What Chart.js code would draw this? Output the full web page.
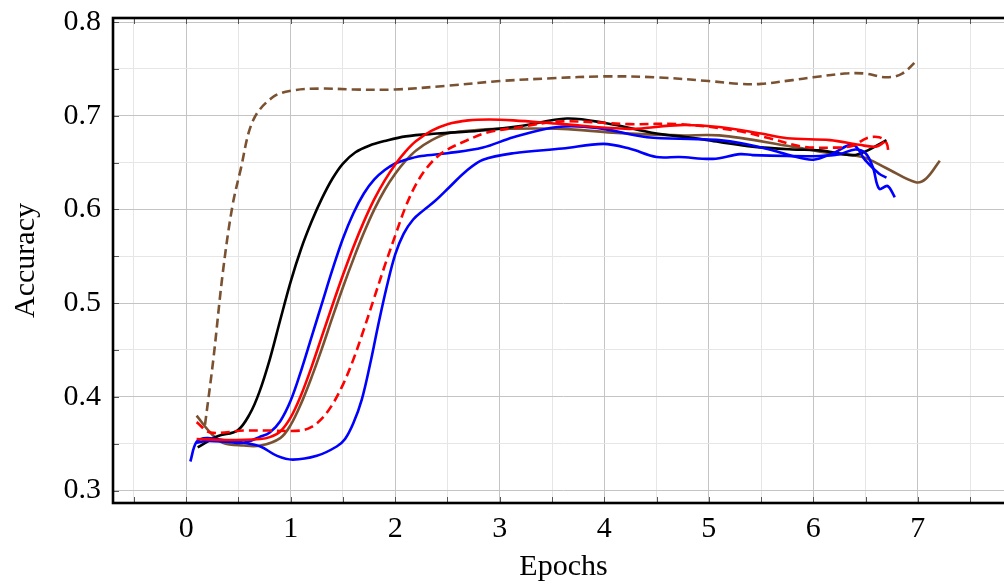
<!DOCTYPE html>
<html lang="en">
<head>
    <meta charset="UTF-8">
    <title>Accuracy vs Epochs</title>
    <style>
        html, body { margin: 0; padding: 0; background: #fff; overflow: hidden; }
        #wrap { width: 1016px; height: 587px; }
    </style>
</head>
<body>
    <div id="wrap"><canvas id="acc-chart" width="1016" height="587"></canvas></div>

    <script src="https://cdn.jsdelivr.net/npm/chart.js"></script>
    <script>
        // Accuracy per epoch for each run
        const blackEpochs = [0.11, 0.3, 0.49, 0.61, 0.7, 0.8, 0.9, 1.0, 1.1, 1.2, 1.3, 1.4, 1.5, 1.62, 1.75, 1.9, 2.1, 2.4, 2.8, 3.2, 3.64, 4.02, 4.5, 4.8, 5.1, 5.42, 5.8, 6.06, 6.38, 6.5, 6.7];
        const blackAcc    = [0.346, 0.358, 0.364, 0.382, 0.405, 0.44, 0.482, 0.523, 0.558, 0.587, 0.612, 0.633, 0.649, 0.661, 0.668, 0.673, 0.678, 0.681, 0.684, 0.689, 0.697, 0.692, 0.681, 0.677, 0.672, 0.667, 0.664, 0.663, 0.658, 0.662, 0.674];

        const redEpochs = [0.1, 0.39, 0.71, 0.8, 0.9, 1.0, 1.1, 1.2, 1.3, 1.4, 1.5, 1.6, 1.7, 1.8, 1.9, 2.0, 2.1, 2.2, 2.35, 2.5, 2.7, 2.9, 3.13, 3.6, 4.24, 4.72, 5.1, 5.5, 5.75, 6.16, 6.44, 6.6, 6.68];
        const redAcc    = [0.355, 0.354, 0.355, 0.357, 0.363, 0.378, 0.402, 0.432, 0.465, 0.498, 0.53, 0.56, 0.587, 0.611, 0.631, 0.648, 0.662, 0.673, 0.684, 0.691, 0.695, 0.696, 0.695, 0.691, 0.686, 0.69, 0.688, 0.681, 0.676, 0.674, 0.669, 0.667, 0.672];

        const redDashEpochs = [0.1, 0.23, 0.55, 0.8, 1.09, 1.2, 1.3, 1.4, 1.5, 1.6, 1.7, 1.8, 1.9, 2.0, 2.1, 2.2, 2.3, 2.4, 2.5, 2.65, 2.88, 3.2, 3.6, 4.24, 4.72, 5.27, 5.58, 5.9, 6.22, 6.38, 6.51, 6.63, 6.7, 6.72];
        const redDashAcc    = [0.373, 0.362, 0.364, 0.364, 0.364, 0.368, 0.377, 0.392, 0.413, 0.44, 0.472, 0.506, 0.54, 0.572, 0.603, 0.627, 0.644, 0.656, 0.664, 0.672, 0.682, 0.688, 0.694, 0.691, 0.691, 0.684, 0.676, 0.667, 0.666, 0.668, 0.676, 0.677, 0.671, 0.66];

        const brownEpochs = [0.1, 0.23, 0.35, 0.55, 0.71, 0.9, 1.0, 1.1, 1.2, 1.3, 1.4, 1.5, 1.6, 1.7, 1.8, 1.9, 2.0, 2.1, 2.2, 2.35, 2.5, 2.7, 3.0, 3.6, 4.08, 4.72, 5.1, 5.75, 6.16, 6.47, 6.7, 6.98, 7.08, 7.21];
        const brownAcc    = [0.38, 0.362, 0.351, 0.348, 0.348, 0.356, 0.37, 0.393, 0.421, 0.452, 0.485, 0.517, 0.547, 0.575, 0.6, 0.621, 0.638, 0.652, 0.663, 0.674, 0.681, 0.684, 0.686, 0.686, 0.682, 0.679, 0.679, 0.668, 0.66, 0.656, 0.644, 0.629, 0.633, 0.652];

        const brownDashEpochs = [0.18, 0.26, 0.35, 0.44, 0.52, 0.64, 0.83, 1.02, 1.3, 1.6, 2.0, 2.5, 3.0, 3.5, 4.0, 4.5, 5.0, 5.3, 5.5, 5.8, 6.0, 6.3, 6.5, 6.7, 6.85, 7.0];
        const brownDashAcc    = [0.37, 0.44, 0.532, 0.602, 0.642, 0.695, 0.72, 0.727, 0.729, 0.728, 0.728, 0.732, 0.737, 0.74, 0.742, 0.741, 0.737, 0.734, 0.734, 0.738, 0.741, 0.745, 0.745, 0.741, 0.745, 0.76];

        const blueEpochs = [0.1, 0.2, 0.39, 0.55, 0.7, 0.8, 0.9, 1.0, 1.1, 1.2, 1.3, 1.4, 1.5, 1.6, 1.7, 1.8, 1.9, 2.0, 2.1, 2.25, 2.5, 2.84, 3.13, 3.55, 3.93, 4.41, 4.89, 5.1, 5.3, 5.58, 5.8, 6.0, 6.19, 6.38, 6.5, 6.63, 6.7];
        const blueAcc    = [0.351, 0.353, 0.352, 0.351, 0.357, 0.362, 0.374, 0.396, 0.428, 0.464, 0.5, 0.536, 0.569, 0.596, 0.617, 0.632, 0.642, 0.649, 0.653, 0.657, 0.66, 0.666, 0.677, 0.688, 0.687, 0.677, 0.675, 0.674, 0.671, 0.664, 0.657, 0.653, 0.66, 0.669, 0.652, 0.638, 0.634];

        const blue2Epochs = [0.04, 0.1, 0.2, 0.39, 0.55, 0.71, 0.87, 1.02, 1.25, 1.44, 1.52, 1.6, 1.68, 1.76, 1.84, 1.92, 2.0, 2.08, 2.17, 2.27, 2.38, 2.52, 2.68, 2.84, 3.13, 3.6, 3.99, 4.24, 4.5, 4.72, 5.04, 5.3, 5.42, 5.75, 6.06, 6.25, 6.4, 6.5, 6.57, 6.63, 6.71, 6.78];
        const blue2Acc    = [0.331, 0.352, 0.356, 0.353, 0.351, 0.347, 0.337, 0.333, 0.337, 0.347, 0.355, 0.372, 0.397, 0.435, 0.478, 0.518, 0.552, 0.574, 0.589, 0.599, 0.609, 0.624, 0.641, 0.653, 0.66, 0.665, 0.67, 0.665, 0.656, 0.656, 0.654, 0.659, 0.658, 0.657, 0.657, 0.659, 0.664, 0.66, 0.645, 0.622, 0.625, 0.613];

        const xTickLabels = [0, 1, 2, 3, 4, 5, 6, 7];
        const yTickLabels = [0.3, 0.4, 0.5, 0.6, 0.7, 0.8];

        const BROWN = '#7a5232';
        const FONT = "'Liberation Serif', 'Times New Roman', serif";

        function toPoints(xs, ys) {
            return xs.map((x, i) => ({ x: x, y: ys[i] }));
        }

        function line(xs, ys, color, dashed) {
            return {
                data: toPoints(xs, ys),
                borderColor: color,
                borderWidth: 2.6,
                borderDash: dashed ? [9, 5] : [],
                pointRadius: 0,
                fill: false,
                tension: 0.35
            };
        }

        function isLabelled(v, list) {
            return list.some(t => Math.abs(t - v) < 1e-6);
        }

        // small inward tick marks on every side, plus the black box
        const frame = {
            id: 'frame',
            afterDraw(chart) {
                const { ctx, chartArea: a, scales } = chart;
                ctx.save();
                ctx.strokeStyle = '#555';
                ctx.lineWidth = 1;
                ctx.beginPath();
                scales.x.ticks.forEach(t => {
                    const px = Math.round(scales.x.getPixelForValue(t.value)) + 0.5;
                    ctx.moveTo(px, a.bottom); ctx.lineTo(px, a.bottom - 6);
                    ctx.moveTo(px, a.top); ctx.lineTo(px, a.top + 6);
                });
                scales.y.ticks.forEach(t => {
                    const py = Math.round(scales.y.getPixelForValue(t.value)) + 0.5;
                    ctx.moveTo(a.left, py); ctx.lineTo(a.left + 6, py);
                    ctx.moveTo(a.right, py); ctx.lineTo(a.right - 6, py);
                });
                ctx.stroke();
                ctx.strokeStyle = '#000';
                ctx.lineWidth = 2.6;
                ctx.strokeRect(a.left, a.top, a.right - a.left, a.bottom - a.top);
                ctx.restore();
            }
        };

        const ctx = document.getElementById('acc-chart').getContext('2d');
        new Chart(ctx, {
            type: 'line',
            data: {
                datasets: [
                    line(redDashEpochs, redDashAcc, '#ff0000', true),
                    line(redEpochs, redAcc, '#ff0000', false),
                    line(blueEpochs, blueAcc, '#0000ff', false),
                    line(blue2Epochs, blue2Acc, '#0000ff', false),
                    line(blackEpochs, blackAcc, '#000000', false),
                    line(brownDashEpochs, brownDashAcc, BROWN, true),
                    line(brownEpochs, brownAcc, BROWN, false)
                ]
            },
            options: {
                responsive: false,
                animation: false,
                events: [],
                layout: { padding: { top: 18, left: 0, right: 2, bottom: 0 } },
                plugins: {
                    legend: { display: false },
                    tooltip: { enabled: false }
                },
                scales: {
                    x: {
                        type: 'linear',
                        min: -0.7,
                        max: 7.92,
                        border: { display: false },
                        grid: {
                            drawTicks: false,
                            lineWidth: 1,
                            color: c => isLabelled(c.tick.value, xTickLabels) ? '#c4c4c4' : '#e6e6e6'
                        },
                        ticks: {
                            stepSize: 0.5,
                            includeBounds: false,
                            autoSkip: false,
                            maxRotation: 0,
                            padding: 8,
                            color: '#000',
                            font: { family: FONT, size: 30 },
                            callback: v => isLabelled(v, xTickLabels) ? String(Math.round(v)) : ''
                        },
                        title: {
                            display: true,
                            text: 'Epochs',
                            color: '#000',
                            font: { family: FONT, size: 30 },
                            padding: { top: 0, bottom: 2 }
                        },
                        afterFit: s => {
                            s.height = 84;
                            s.paddingLeft = 0;
                            s.paddingRight = 0;
                        }
                    },
                    y: {
                        type: 'linear',
                        min: 0.2867,
                        max: 0.8043,
                        border: { display: false },
                        grid: {
                            drawTicks: false,
                            lineWidth: 1,
                            color: c => isLabelled(c.tick.value, yTickLabels) ? '#c4c4c4' : '#e6e6e6'
                        },
                        ticks: {
                            stepSize: 0.05,
                            includeBounds: false,
                            autoSkip: false,
                            padding: 12,
                            color: '#000',
                            font: { family: FONT, size: 30 },
                            callback: v => isLabelled(v, yTickLabels) ? v.toFixed(1) : ''
                        },
                        title: {
                            display: true,
                            text: 'Accuracy',
                            color: '#000',
                            font: { family: FONT, size: 30 },
                            padding: { top: 8, bottom: 0 }
                        },
                        afterFit: s => {
                            s.width = 113;
                            s.paddingTop = 0;
                            s.paddingBottom = 0;
                        }
                    }
                }
            },
            plugins: [frame]
        });
    </script>
</body>
</html>
